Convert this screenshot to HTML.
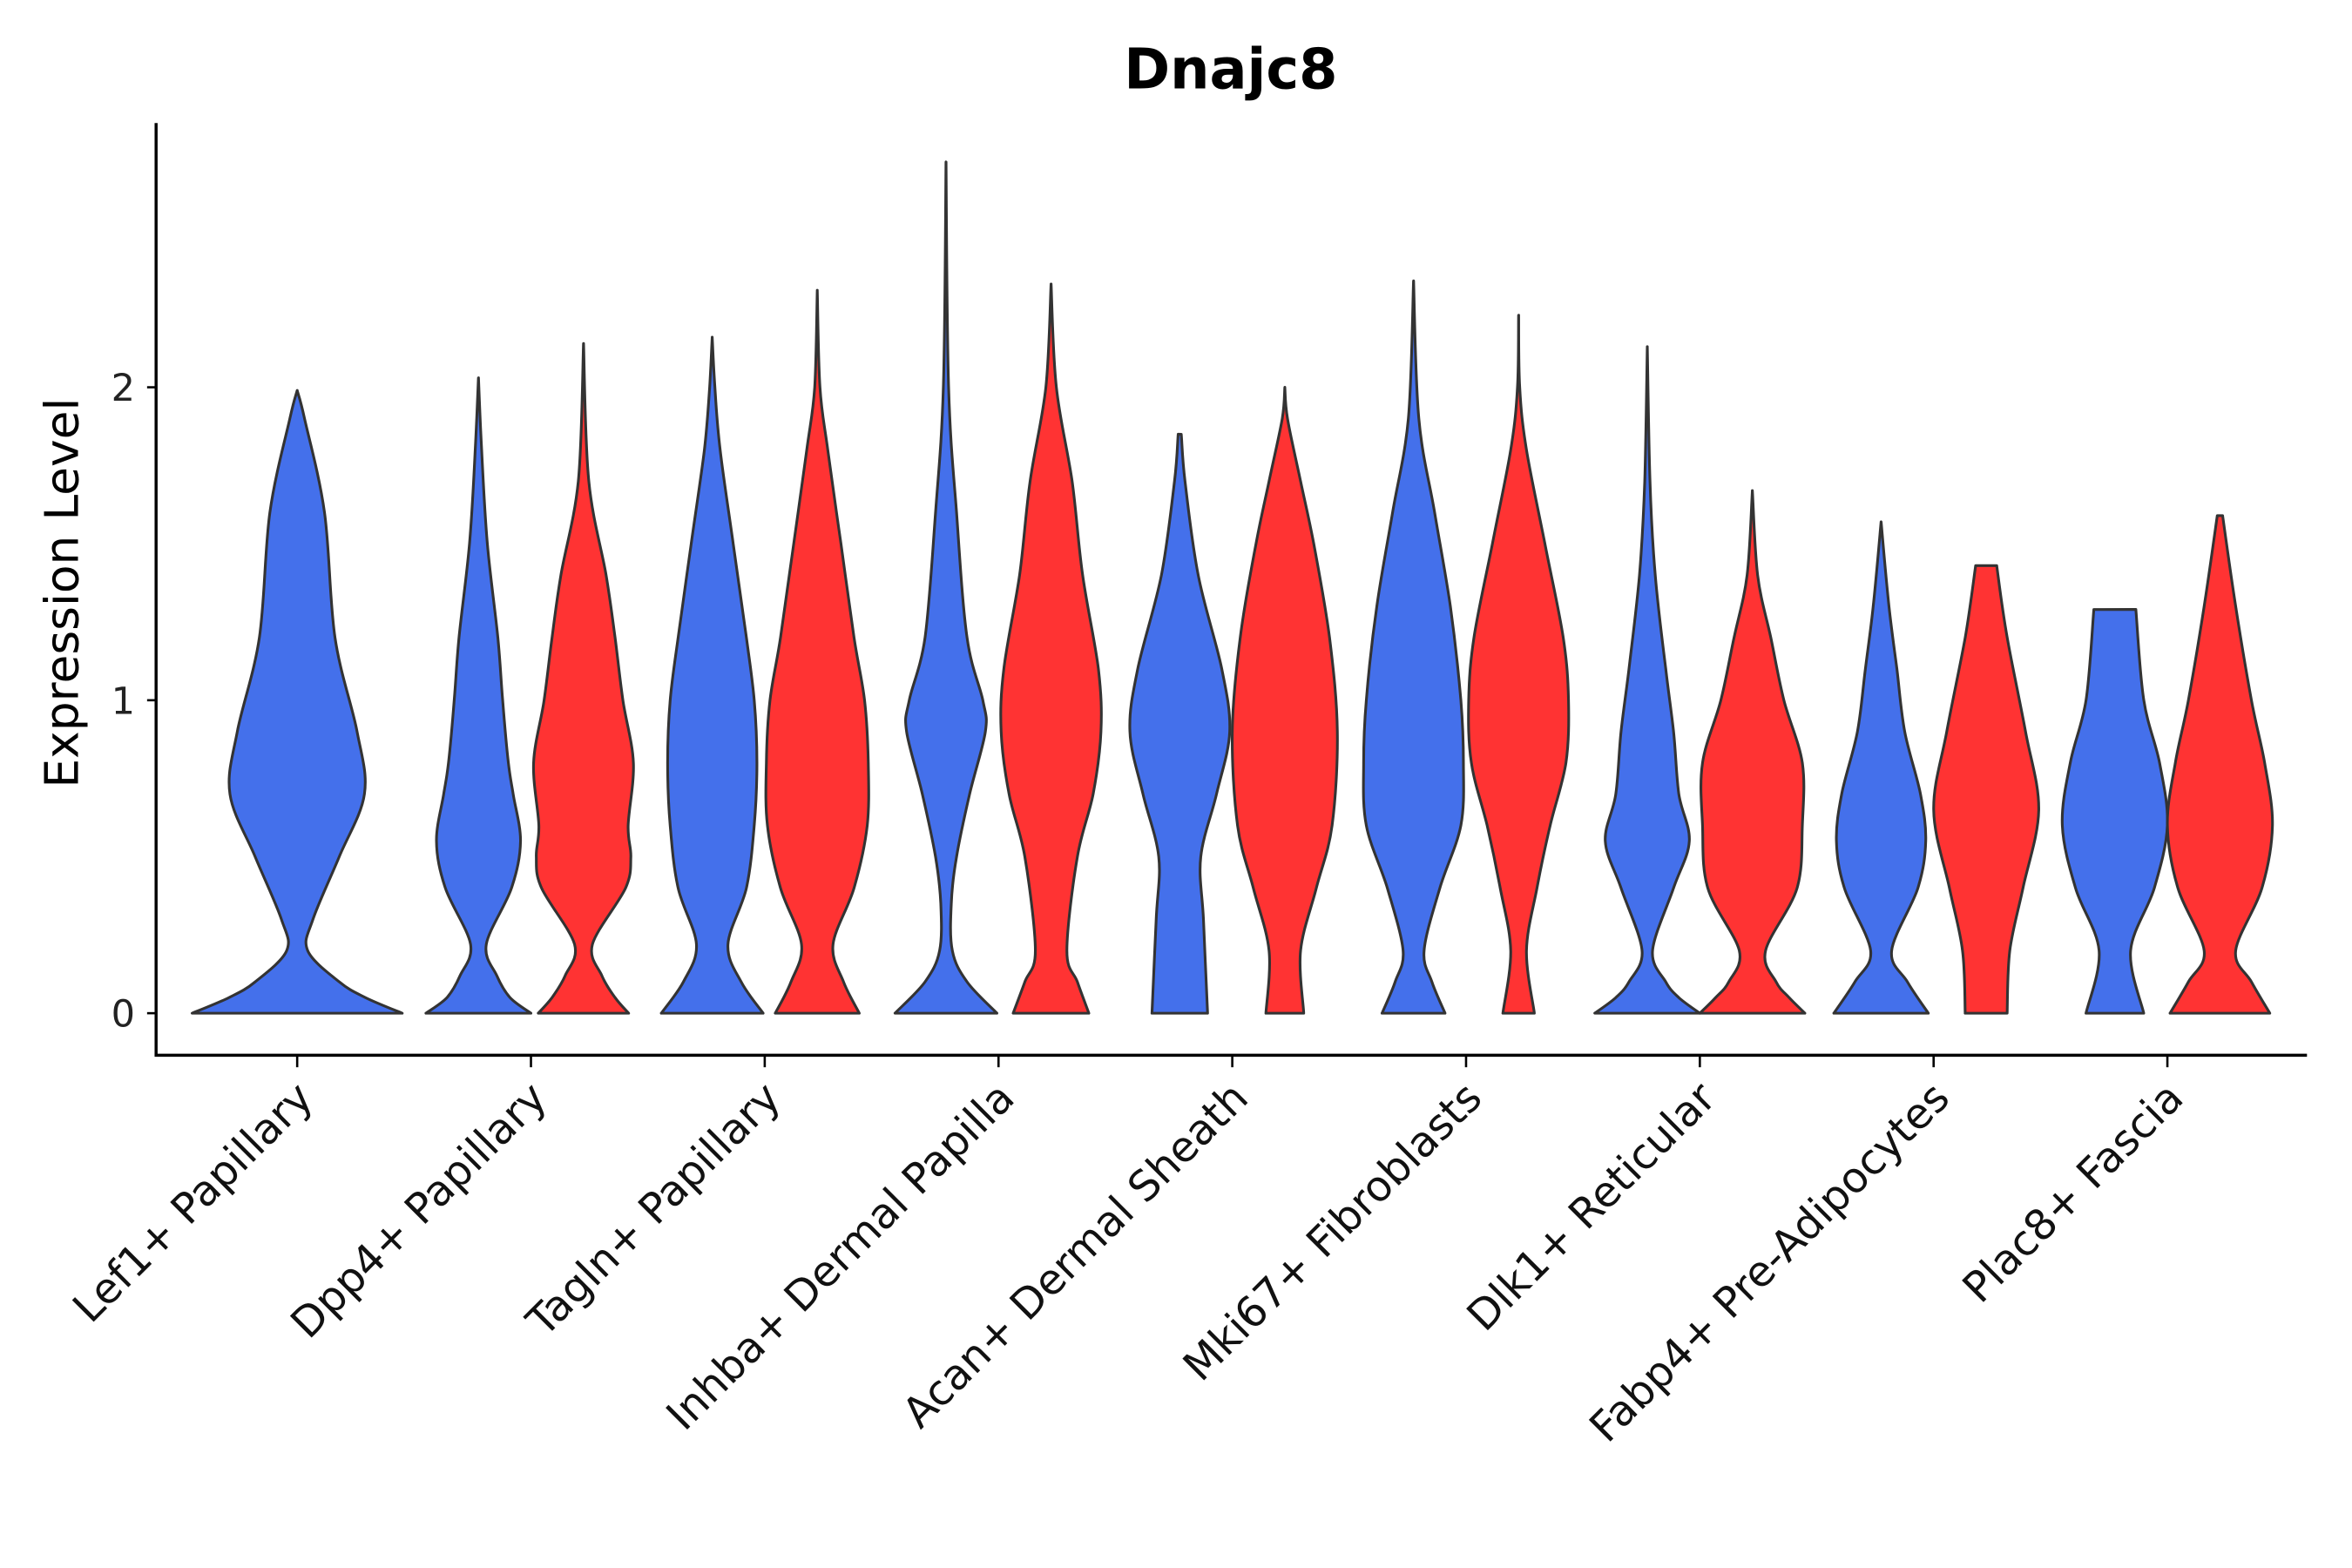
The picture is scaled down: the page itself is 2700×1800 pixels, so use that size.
<!DOCTYPE html>
<html><head><meta charset="utf-8"><style>html,body{margin:0;padding:0;background:#fff}svg{display:block}</style></head>
<body>
<svg id="chart" xmlns="http://www.w3.org/2000/svg" width="2700" height="1800" viewBox="0 0 1567 1044.6" preserveAspectRatio="none" font-family="'DejaVu Sans','Liberation Sans',sans-serif">
<rect width="1567" height="1044.6" fill="#fff"/>
<text x="820" y="59" text-anchor="middle" font-size="37" font-weight="bold">Dnajc8</text>
<text transform="translate(52,395) rotate(-90)" text-anchor="middle" font-size="31">Expression Level</text>
<g id="plot"></g>
</svg>
<script>
const categories = ["Lef1+ Papillary","Dpp4+ Papillary","Tagln+ Papillary","Inhba+ Dermal Papilla","Acan+ Dermal Sheath","Mki67+ Fibroblasts","Dlk1+ Reticular","Fabp4+ Pre-Adipocytes","Plac8+ Fascia"];
const yTicks = [0,1,2];
// each violin: category index, group (0 blue / 1 red / -1 full), profile of [expression, relative half-width]
const violinGroups = [-1,0,1,0,1,0,1,0,1,0,1,0,1,0,1,0,1];
const violinCats = [0,1,1,2,2,3,3,4,4,5,5,6,6,7,7,8,8];
const violinProfiles = [
 [[0,2],[0.05,1.3],[0.1,0.8],[0.2,0.2],[0.3,0.3],[0.5,0.8],[0.7,1.28],[0.9,1.14],[1.2,0.72],[1.6,0.52],[1.9,0.14],[1.99,0]],
 [[0,1],[0.05,0.6],[0.12,0.35],[0.22,0.15],[0.4,0.63],[0.55,0.8],[0.7,0.66],[0.8,0.57],[1.0,0.46],[1.2,0.37],[1.5,0.17],[1.8,0.06],[2.03,0]],
 [[0,0.86],[0.05,0.6],[0.12,0.35],[0.22,0.17],[0.4,0.8],[0.5,0.9],[0.6,0.85],[0.8,0.95],[1.0,0.75],[1.2,0.6],[1.4,0.43],[1.7,0.1],[2.14,0]],
 [[0,0.97],[0.1,0.55],[0.22,0.3],[0.4,0.65],[0.6,0.8],[0.8,0.85],[1.0,0.8],[1.2,0.65],[1.5,0.4],[1.8,0.15],[2.0,0.05],[2.16,0]],
 [[0,0.8],[0.1,0.5],[0.22,0.3],[0.4,0.7],[0.6,0.95],[0.8,0.97],[1.0,0.9],[1.2,0.7],[1.5,0.45],[1.8,0.2],[2.0,0.05],[2.31,0]],
 [[0,0.97],[0.1,0.4],[0.2,0.12],[0.35,0.1],[0.5,0.2],[0.7,0.45],[0.9,0.75],[1.0,0.7],[1.2,0.4],[1.6,0.2],[2.0,0.05],[2.72,0]],
 [[0,0.72],[0.1,0.5],[0.2,0.3],[0.5,0.5],[0.7,0.8],[0.9,0.95],[1.1,0.9],[1.4,0.6],[1.7,0.4],[2.0,0.1],[2.33,0]],
 [[0,0.53],[0.3,0.45],[0.5,0.4],[0.7,0.7],[0.9,0.95],[1.1,0.8],[1.4,0.35],[1.7,0.1],[1.85,0.03]],
 [[0,0.36],[0.2,0.3],[0.4,0.6],[0.6,0.9],[0.9,1.0],[1.2,0.85],[1.5,0.55],[1.7,0.3],[1.9,0.05],[2.0,0]],
 [[0,0.6],[0.1,0.35],[0.2,0.2],[0.4,0.5],[0.6,0.9],[0.8,0.95],[1.0,0.9],[1.3,0.7],[1.6,0.4],[1.9,0.1],[2.34,0]],
 [[0,0.3],[0.2,0.15],[0.4,0.35],[0.6,0.6],[0.8,0.9],[1.0,0.95],[1.2,0.85],[1.5,0.5],[1.8,0.15],[2.0,0.02],[2.23,0]],
 [[0,1],[0.05,0.6],[0.1,0.35],[0.2,0.1],[0.4,0.5],[0.55,0.8],[0.7,0.6],[0.9,0.5],[1.1,0.35],[1.4,0.15],[1.7,0.05],[2.13,0]],
 [[0,1],[0.05,0.7],[0.1,0.45],[0.2,0.25],[0.4,0.85],[0.6,0.95],[0.8,0.95],[1.0,0.6],[1.2,0.35],[1.4,0.1],[1.67,0]],
 [[0,0.9],[0.1,0.5],[0.2,0.2],[0.4,0.7],[0.55,0.85],[0.7,0.75],[0.9,0.45],[1.1,0.3],[1.3,0.15],[1.57,0]],
 [[0,0.4],[0.2,0.45],[0.4,0.7],[0.65,1.0],[0.9,0.75],[1.2,0.4],[1.43,0.2]],
 [[0,0.55],[0.2,0.3],[0.4,0.75],[0.6,1.0],[0.8,0.85],[1.0,0.55],[1.29,0.4]],
 [[0,0.95],[0.1,0.6],[0.2,0.3],[0.4,0.8],[0.6,1.0],[0.8,0.85],[1.0,0.6],[1.3,0.3],[1.59,0.05]]
];
const NS="http://www.w3.org/2000/svg";
const plot=document.getElementById('plot');
const X0=104, X1=1537, YT=82, YB=703;
const yScale=v=>675-v*208.5;
const xScale=i=>198+i*155.75;
const HW=35;
function mk(tag,attrs){const e=document.createElementNS(NS,tag);for(const k in attrs)e.setAttribute(k,attrs[k]);plot.appendChild(e);return e;}
function smooth(pts){
 let d="";
 for(let i=0;i<pts.length-1;i++){
  const p0=pts[Math.max(0,i-1)],p1=pts[i],p2=pts[i+1],p3=pts[Math.min(pts.length-1,i+2)];
  const c1=[p1[0]+(p2[0]-p0[0])/6,p1[1]+(p2[1]-p0[1])/6];
  const c2=[p2[0]-(p3[0]-p1[0])/6,p2[1]-(p3[1]-p1[1])/6];
  d+=` C${c1[0].toFixed(1)},${c1[1].toFixed(1)} ${c2[0].toFixed(1)},${c2[1].toFixed(1)} ${p2[0].toFixed(1)},${p2[1].toFixed(1)}`;
 }
 return d;
}
violinProfiles.forEach((prof,k)=>{
 const g=violinGroups[k];
 const cx=xScale(violinCats[k])+(g<0?0:(g===0?-35:35));
 const right=prof.map(p=>[cx+p[1]*HW,yScale(p[0])]);
 const left=prof.slice().reverse().map(p=>[cx-p[1]*HW,yScale(p[0])]);
 let d=`M${left[left.length-1][0]},${left[left.length-1][1]} L${right[0][0]},${right[0][1]}`+smooth(right);
 d+=` L${left[0][0]},${left[0][1]}`+smooth(left)+" Z";
 const path=mk('path',{d:d,fill:g===1?'#ff3333':'#4470eb',stroke:'#333','stroke-width':1.8,'stroke-linejoin':'round'});
 
 
});
const ya=mk('line',{x1:X0,y1:YT,x2:X0,y2:YB,stroke:'#000','stroke-width':2});


const xa=mk('line',{x1:X0-1,y1:YB,x2:X1,y2:YB,stroke:'#000','stroke-width':2});


yTicks.forEach(t=>{
 const y=yScale(t);
 const tk=mk('line',{x1:X0-6,y1:y,x2:X0,y2:y,stroke:'#000','stroke-width':1.5});
 
 
 const tx=mk('text',{x:X0-14,y:y+9,'text-anchor':'end','font-size':25,fill:'#222'});
 tx.textContent=t;
 
 
});
categories.forEach((c,i)=>{
 const x=xScale(i);
 const tk=mk('line',{x1:x,y1:YB,x2:x,y2:YB+8,stroke:'#000','stroke-width':1.5});
 
 
 const tx=mk('text',{transform:`translate(${x+12},${YB+30}) rotate(-45)`,'text-anchor':'end','font-size':28,fill:'#111'});
 tx.textContent=c;
 
 
});
</script>
</body></html>
